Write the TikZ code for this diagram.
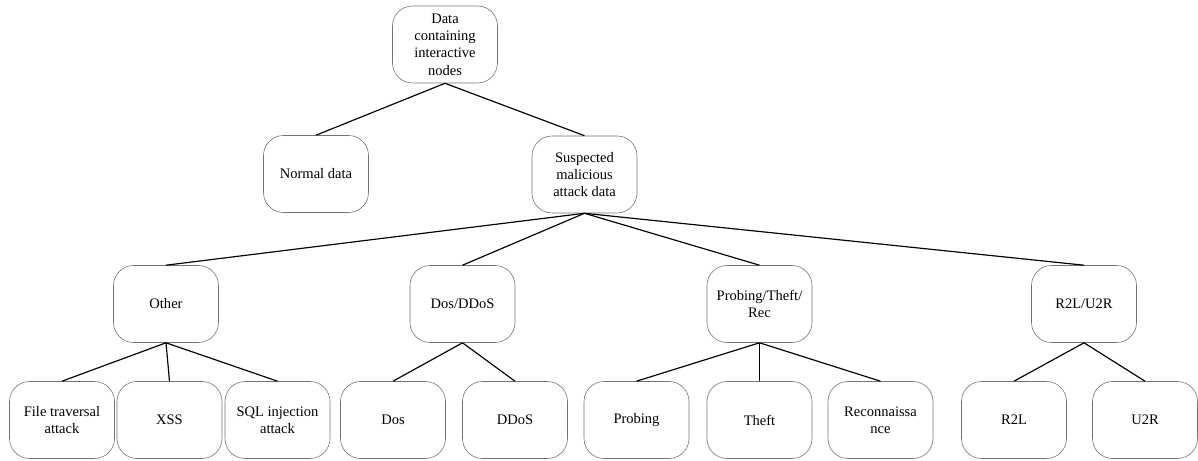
\documentclass[tikz,border=0pt]{standalone}
\usepackage{fontspec}
\setmainfont{Liberation Serif}
\usepackage{tikz}
\usepackage{xcolor}

\begin{document}
\begin{tikzpicture}[
  x=0.03cm, y=-0.03cm,
  cat/.style={draw=black!55, line width=0.5pt, rounded corners=0.6cm, minimum width=3.15cm,
    minimum height=2.31cm, align=center, inner sep=2pt,
    font=\fontsize{12.4}{14.8}\selectfont},
  link/.style={line width=1pt, black}
]
\useasboundingbox (0,0) rectangle (1198,461);

% Root and first split
\node[cat] (root) at (445,44.5) {Data\\containing\\interactive\\nodes};
\node[cat] (normal) at (316,174) {Normal data};
\node[cat] (susp) at (584.5,174.5) {Suspected\\malicious\\attack data};

% Attack families
\node[cat] (other) at (166,304) {Other};
\node[cat] (dosfam) at (462.5,304) {Dos/DDoS};
\node[cat] (probfam) at (759.5,304) {Probing/Theft/\\Rec};
\node[cat] (privfam) at (1084,304) {R2L/U2R};

% Leaves
\node[cat] (file) at (62,420) {File traversal\\attack};
\node[cat] (xss) at (169.5,420) {XSS};
\node[cat] (sql) at (277.5,420) {SQL injection\\attack};
\node[cat] (dos) at (393,420) {Dos};
\node[cat] (ddos) at (515,420) {DDoS};
\node[cat] (probing) at (636.5,420) {Probing};
\node[cat] (theft) at (759.5,420) {Theft};
\node[cat] (recon) at (880.5,420) {Reconnaissa\\nce};
\node[cat] (rtl) at (1014,420) {R2L};
\node[cat] (utr) at (1145,420) {U2R};

% Tree edges
\draw[link] (root.south) -- (normal.north);
\draw[link] (root.south) -- (susp.north);
\foreach \c in {other, dosfam, probfam, privfam}
  \draw[link] (susp.south) -- (\c.north);
\foreach \c in {file, xss, sql}
  \draw[link] (other.south) -- (\c.north);
\foreach \c in {dos, ddos}
  \draw[link] (dosfam.south) -- (\c.north);
\foreach \c in {probing, theft, recon}
  \draw[link] (probfam.south) -- (\c.north);
\foreach \c in {rtl, utr}
  \draw[link] (privfam.south) -- (\c.north);

\end{tikzpicture}
\end{document}
